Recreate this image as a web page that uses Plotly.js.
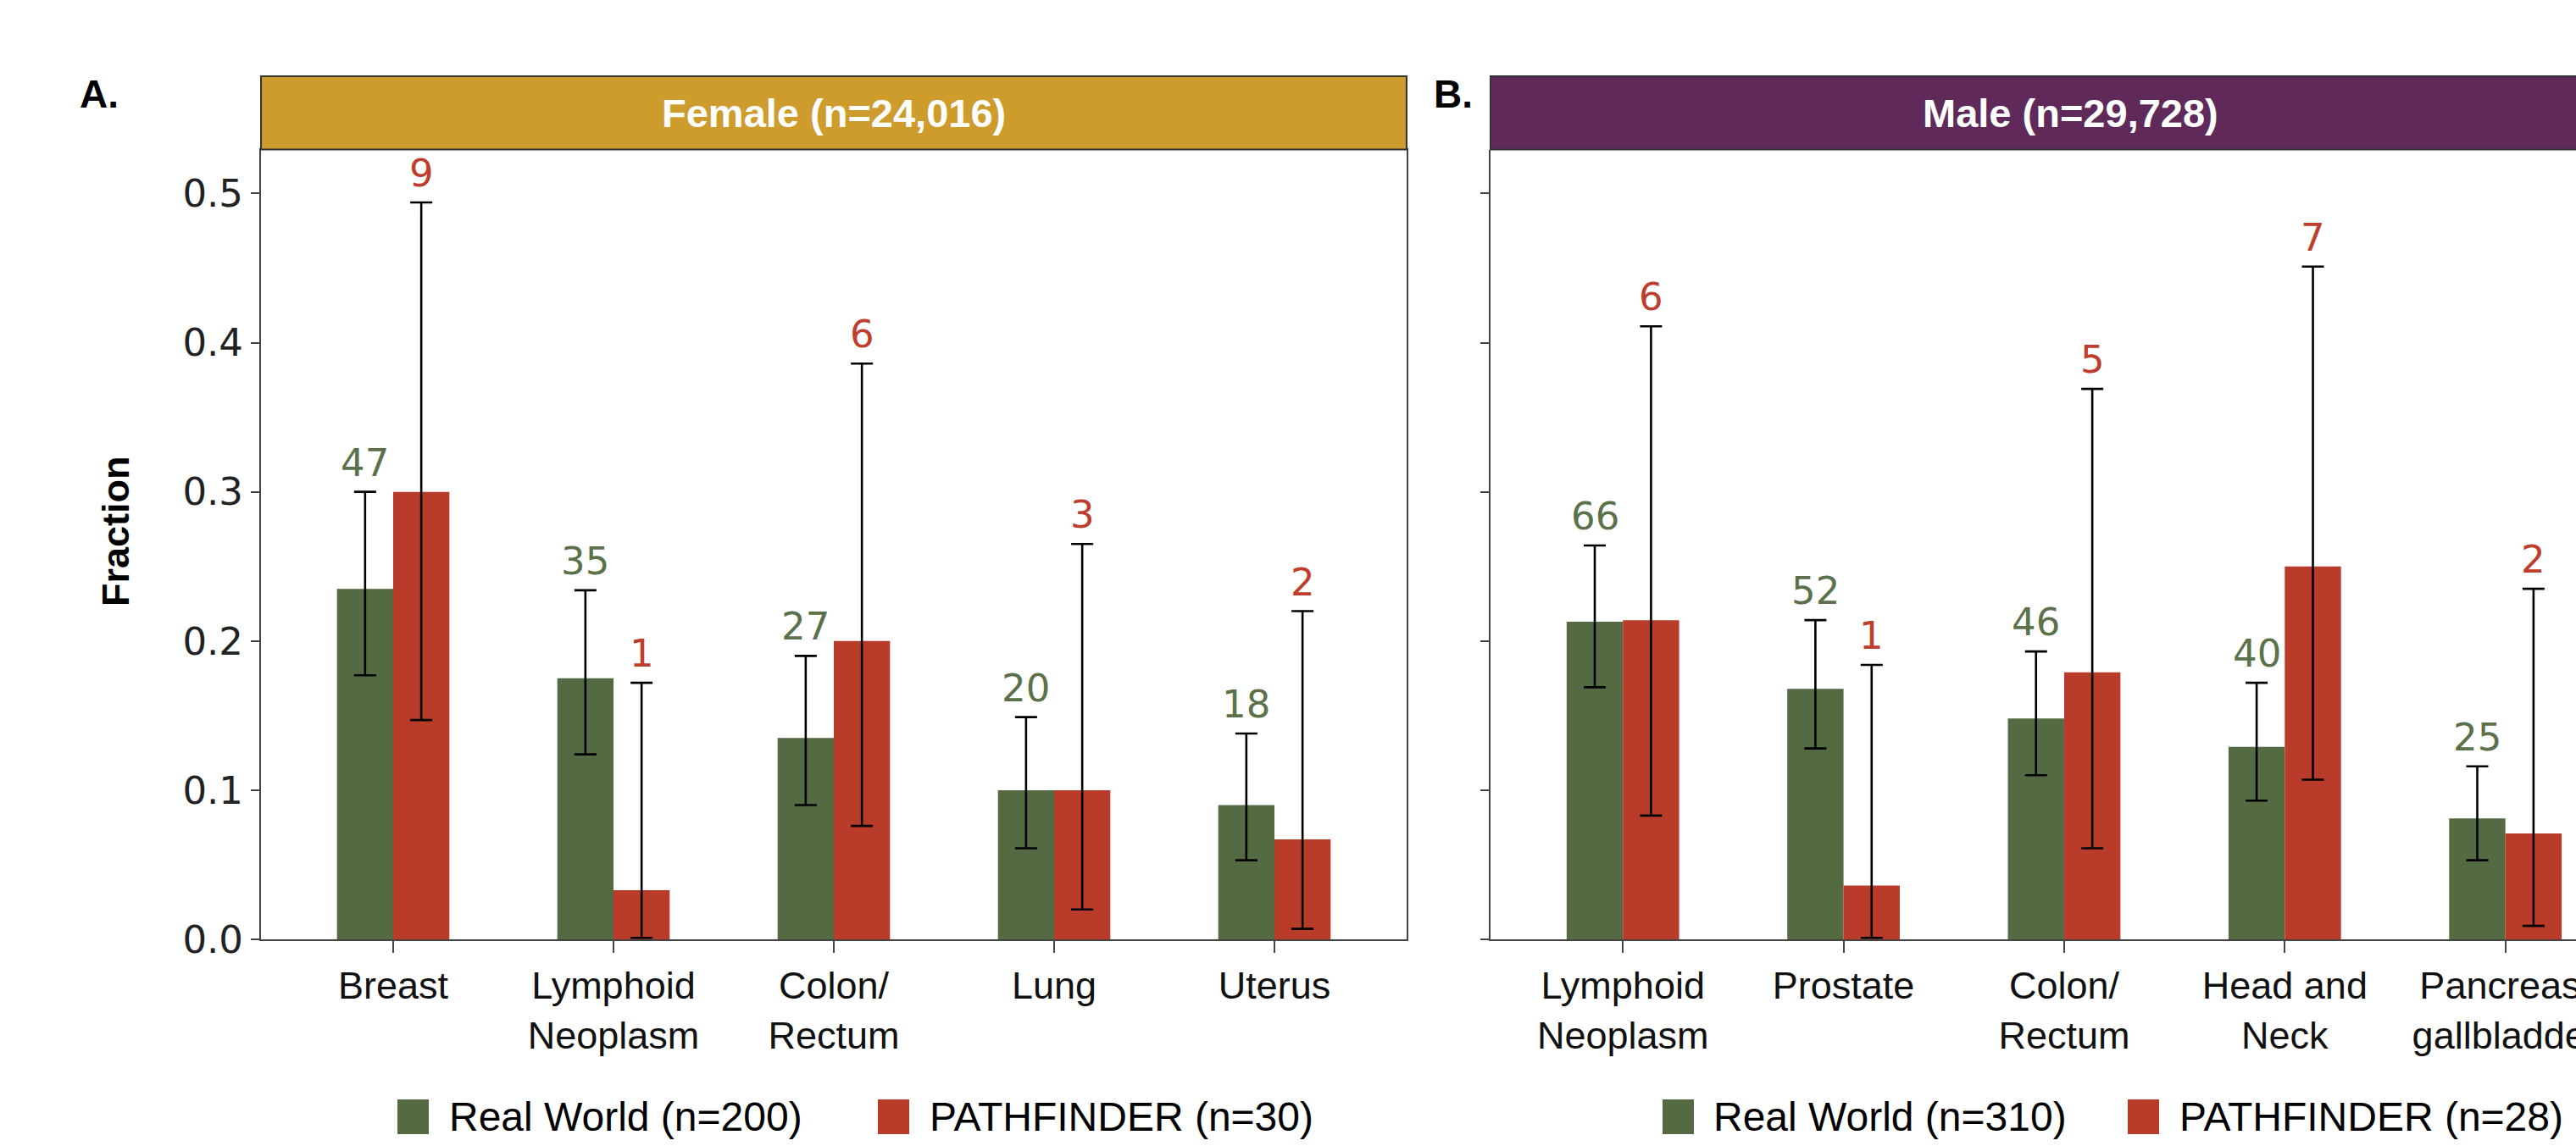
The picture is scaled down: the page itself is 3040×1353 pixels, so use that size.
<!DOCTYPE html>
<html>
<head>
<meta charset="utf-8">
<script src="https://cdn.plot.ly/plotly-3.0.1.min.js"></script>
<style>
  html, body { margin: 0; padding: 0; background: #fff; }
  #chart { width: 3040px; height: 1353px; }
</style>
</head>
<body>
<div id="chart"></div>
<script>
// ---- Female panel ----
const femaleSites = ['Breast', 'Lymphoid<br>Neoplasm', 'Colon/<br>Rectum', 'Lung', 'Uterus'];
const femaleRealFrac   = [0.235, 0.175, 0.135, 0.100, 0.090];
const femaleRealLow    = [0.177, 0.124, 0.090, 0.061, 0.053];
const femaleRealHigh   = [0.300, 0.234, 0.190, 0.149, 0.138];
const femaleRealCount  = [47, 35, 27, 20, 18];
const femalePathFrac   = [0.300, 0.033, 0.200, 0.100, 0.067];
const femalePathLow    = [0.147, 0.001, 0.076, 0.020, 0.007];
const femalePathHigh   = [0.494, 0.172, 0.386, 0.265, 0.220];
const femalePathCount  = [9, 1, 6, 3, 2];

// ---- Male panel ----
const maleSites = ['Lymphoid<br>Neoplasm', 'Prostate', 'Colon/<br>Rectum', 'Head and<br>Neck', 'Pancreas/<br>gallbladder'];
const maleRealFrac   = [0.213, 0.168, 0.148, 0.129, 0.081];
const maleRealLow    = [0.169, 0.128, 0.110, 0.093, 0.053];
const maleRealHigh   = [0.264, 0.214, 0.193, 0.172, 0.116];
const maleRealCount  = [66, 52, 46, 40, 25];
const malePathFrac   = [0.214, 0.036, 0.179, 0.250, 0.071];
const malePathLow    = [0.083, 0.001, 0.061, 0.107, 0.009];
const malePathHigh   = [0.411, 0.184, 0.369, 0.451, 0.235];
const malePathCount  = [6, 1, 5, 7, 2];

// ---- Labels ----
const panelTitles  = ['Female (n=24,016)', 'Male (n=29,728)'];
const panelLetters = ['A.', 'B.'];
const femaleLegend = ['Real World (n=200)', 'PATHFINDER (n=30)'];
const maleLegend   = ['Real World (n=310)', 'PATHFINDER (n=28)'];
const yTickVals  = [0, 0.1, 0.2, 0.3, 0.4, 0.5];
const yTickText  = ['0.0', '0.1', '0.2', '0.3', '0.4', '0.5'];
const yTitle = 'Fraction';

// ---- Styling ----
const W = 3040, H = 1353;
const GREEN = '#546a42', RED = '#b93c2a';
const GREEN_TXT = '#5a7149', RED_TXT = '#bf3d2c';
const GOLD = '#ce9c2c', PURPLE = '#5f2a5a';
const AXIS = '#444444';
const SANS = 'Liberation Sans, Arial, Helvetica, sans-serif';
const NUM = 'DejaVu Sans, Verdana, sans-serif';
const BARGAP = 0.49;
const OFFSET = (1 - BARGAP) / 4;

const px = x => x / W;
const py = y => 1 - y / H;

function barTrace(sites, frac, low, high, color, xa, ya, name) {
  return {
    type: 'bar', name: name, x: sites, y: frac,
    xaxis: xa, yaxis: ya,
    marker: { color: color, line: { width: 0 } },
    error_y: {
      type: 'data', symmetric: false,
      array: high.map((h, i) => h - frac[i]),
      arrayminus: low.map((l, i) => frac[i] - l),
      color: '#000', thickness: 2.6, width: 13
    },
    showlegend: false, hoverinfo: 'skip'
  };
}

const data = [
  barTrace(femaleSites, femaleRealFrac, femaleRealLow, femaleRealHigh, GREEN, 'x', 'y', femaleLegend[0]),
  barTrace(femaleSites, femalePathFrac, femalePathLow, femalePathHigh, RED, 'x', 'y', femaleLegend[1]),
  barTrace(maleSites, maleRealFrac, maleRealLow, maleRealHigh, GREEN, 'x2', 'y2', maleLegend[0]),
  barTrace(maleSites, malePathFrac, malePathLow, malePathHigh, RED, 'x2', 'y2', maleLegend[1])
];

// count labels above each upper confidence limit
const annotations = [];
function countLabels(counts, high, shift, color, xref, yref) {
  counts.forEach((c, i) => {
    annotations.push({
      xref: xref, yref: yref, x: i + shift, y: high[i],
      text: String(c), showarrow: false, yanchor: 'bottom', xanchor: 'center',
      yshift: 6, font: { family: NUM, size: 45, color: color }
    });
  });
}
countLabels(femaleRealCount, femaleRealHigh, -OFFSET, GREEN_TXT, 'x', 'y');
countLabels(femalePathCount, femalePathHigh, OFFSET, RED_TXT, 'x', 'y');
countLabels(maleRealCount, maleRealHigh, -OFFSET, GREEN_TXT, 'x2', 'y2');
countLabels(malePathCount, malePathHigh, OFFSET, RED_TXT, 'x2', 'y2');

// panel geometry (pixels)
const P1 = { left: 308, right: 1660 };
const P2 = { left: 1759, right: 3040, center: 2443 };
const PLOT_TOP = 176.5, PLOT_BOTTOM = 1109, STRIP_TOP = 90;

const shapes = [
  { type: 'rect', xref: 'paper', yref: 'paper', x0: px(P1.left), x1: px(P1.right),
    y0: py(PLOT_TOP), y1: py(STRIP_TOP), fillcolor: GOLD, line: { color: '#333', width: 2 }, layer: 'above' },
  { type: 'rect', xref: 'paper', yref: 'paper', x0: px(P2.left), x1: px(P2.right + 20),
    y0: py(PLOT_TOP), y1: py(STRIP_TOP), fillcolor: PURPLE, line: { color: '#333', width: 2 }, layer: 'above' }
];

// strip titles, panel letters, y title
annotations.push(
  { xref: 'paper', yref: 'paper', x: px((P1.left + P1.right) / 2), y: py((STRIP_TOP + PLOT_TOP) / 2),
    text: '<b>' + panelTitles[0] + '</b>', showarrow: false, xanchor: 'center', yanchor: 'middle',
    font: { family: SANS, size: 47, color: '#fff' } },
  { xref: 'paper', yref: 'paper', x: px(P2.center), y: py((STRIP_TOP + PLOT_TOP) / 2),
    text: '<b>' + panelTitles[1] + '</b>', showarrow: false, xanchor: 'center', yanchor: 'middle',
    font: { family: SANS, size: 47, color: '#fff' } },
  { xref: 'paper', yref: 'paper', x: px(117), y: py(111), text: '<b>' + panelLetters[0] + '</b>',
    showarrow: false, xanchor: 'center', yanchor: 'middle', font: { family: SANS, size: 46, color: '#000' } },
  { xref: 'paper', yref: 'paper', x: px(1715), y: py(111), text: '<b>' + panelLetters[1] + '</b>',
    showarrow: false, xanchor: 'center', yanchor: 'middle', font: { family: SANS, size: 46, color: '#000' } },
  { xref: 'paper', yref: 'paper', x: px(136), y: py(627), text: '<b>' + yTitle + '</b>', textangle: -90,
    showarrow: false, xanchor: 'center', yanchor: 'middle', font: { family: SANS, size: 45, color: '#000' } }
);

// legends under each panel
function legend(labels, items) {
  items.forEach((it, k) => {
    shapes.push({ type: 'rect', xref: 'paper', yref: 'paper', x0: px(it.sx), x1: px(it.sx + 37),
      y0: py(1339), y1: py(1298), fillcolor: k === 0 ? GREEN : RED, line: { width: 0 } });
    annotations.push({ xref: 'paper', yref: 'paper', x: px(it.tx), y: py(1318), text: labels[k],
      showarrow: false, xanchor: 'left', yanchor: 'middle', font: { family: SANS, size: 48, color: '#000' } });
  });
}
legend(femaleLegend, [{ sx: 469, tx: 528 }, { sx: 1036, tx: 1095 }]);
legend(maleLegend, [{ sx: 1962, tx: 2020 }, { sx: 2511, tx: 2570 }]);

const xCommon = {
  type: 'category', showline: true, linecolor: AXIS, linewidth: 2,
  ticks: 'outside', ticklen: 14, tickwidth: 2, tickcolor: AXIS,
  tickfont: { family: SANS, size: 45, color: '#111' },
  showgrid: false, zeroline: false, fixedrange: true
};
const yCommon = {
  range: [0, 0.5295], domain: [py(PLOT_BOTTOM), py(PLOT_TOP)],
  tickvals: yTickVals, ticktext: yTickText,
  showline: true, linecolor: AXIS, linewidth: 2,
  ticks: 'outside', ticklen: 10, tickwidth: 2, tickcolor: AXIS,
  tickfont: { family: NUM, size: 45, color: '#222' },
  showgrid: false, zeroline: false, fixedrange: true
};

const layout = {
  width: W, height: H,
  margin: { l: 0, r: 0, t: 0, b: 0, pad: 0 },
  paper_bgcolor: '#fff', plot_bgcolor: '#fff',
  barmode: 'group', bargap: BARGAP, bargroupgap: 0,
  showlegend: false,
  xaxis: Object.assign({}, xCommon, { domain: [px(P1.left), px(P1.right)], range: [-0.6, 4.6], anchor: 'y', mirror: true }),
  yaxis: Object.assign({}, yCommon, { anchor: 'x', mirror: true }),
  xaxis2: Object.assign({}, xCommon, { domain: [px(P2.left), 1], range: [-0.6, 4.32], anchor: 'y2' }),
  yaxis2: Object.assign({}, yCommon, { anchor: 'x2', showticklabels: false }),
  shapes: shapes,
  annotations: annotations
};

Plotly.newPlot('chart', data, layout, { staticPlot: true, displayModeBar: false });
</script>
</body>
</html>
